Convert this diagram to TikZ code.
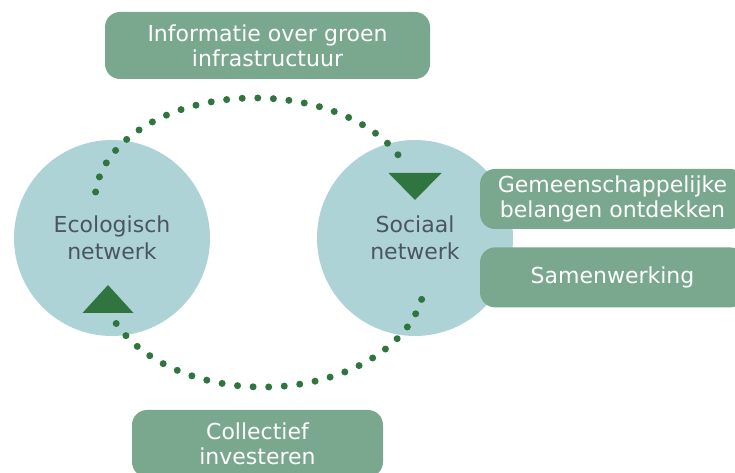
\documentclass[tikz,border=0pt]{standalone}
\usepackage{fontspec}
\setmainfont{DejaVu Sans}
\usetikzlibrary{positioning}
\definecolor{cirkelblauw}{HTML}{AED3D7}
\definecolor{blokgroen}{HTML}{7AA88E}
\definecolor{donkergroen}{HTML}{30743F}
\definecolor{tekstgrijs}{HTML}{4B5560}
\tikzstyle{netwerk} = [circle, fill=cirkelblauw, text=tekstgrijs, align=center, inner sep=0pt, minimum size=196pt, font=\fontsize{22}{26.5}\selectfont]
\tikzstyle{block} = [rectangle, fill=blokgroen, text=white, align=center, inner sep=0pt, rounded corners=15pt, font=\fontsize{22}{25}\selectfont]
\tikzstyle{dots} = [draw=donkergroen, line width=7pt, line cap=round, dash pattern=on 0pt off 15.6pt]
\tikzstyle{pijl} = [fill=donkergroen]

\begin{document}
\begin{tikzpicture}[x=1pt, y=1pt]
	\useasboundingbox (0,0) rectangle (735,473);
	\clip (0,0) rectangle (735,473);
	% Place nodes
	\node [netwerk] (eco) at (112,235) {Ecologisch\\netwerk};
	\node [netwerk] (sociaal) at (415,235) {Sociaal\\netwerk};
	\node [block, minimum width=325pt, minimum height=67pt] (info) at (267.5,427.5) {Informatie over groen\\infrastructuur};
	\node [block, minimum width=265pt, minimum height=60pt] (belangen) at (612.5,274) {Gemeenschappelijke\\belangen ontdekken};
	\node [block, minimum width=265pt, minimum height=60pt, below=18pt of belangen] (samen) {Samenwerking};
	\node [block, minimum width=251pt, minimum height=67pt] (collectief) at (257.5,29.5) {Collectief\\investeren};
	
	% Arc ends
	\coordinate (bovenstart) at (95.6,281);
	\coordinate (onderstart) at (116.2,149.5);
	\coordinate (pijlsociaal) at (415,273);
	\coordinate (pijleco) at (108,188);
	
	% Draw edges
	\path [dots] (bovenstart) arc[start angle=175, end angle=20, x radius=160, y radius=103];
	\path [dots] (onderstart) arc[start angle=205, end angle=352, x radius=162, y radius=110];
	\path [pijl] (pijlsociaal) -- ++(-26.5,27) -- ++(53,0) -- cycle;
	\path [pijl] (pijleco) -- ++(-25.5,-28) -- ++(51,0) -- cycle;
\end{tikzpicture}
\end{document}
